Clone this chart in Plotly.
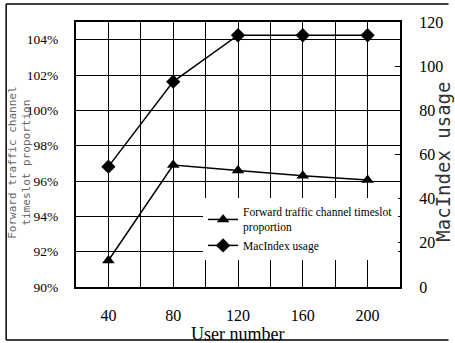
import plotly.graph_objects as go

users = [40, 80, 120, 160, 200]
timeslot_pct = [91.5, 96.9, 96.6, 96.3, 96.05]
macindex_usage = [54.5, 93, 114, 114, 114]

x_grid_vals = [20, 40, 60, 80, 100, 120, 140, 160, 180, 200, 220]
x_tick_text = ["", "40", "", "80", "", "120", "", "160", "", "200", ""]
y_left_vals = [90, 92, 94, 96, 98, 100, 102, 104]
y_left_text = ["90%", "92%", "94%", "96%", "98%", "100%", "102%", "104%"]
y_right_vals = [0, 20, 40, 60, 80, 100, 120]

FONT = "Liberation Serif"

# plot-area pixel geometry helpers
L, R, T, B = 76, 410, 22, 287
def px(xp):
    return (xp - L) / (R - L)
def py(yp):
    return (B - yp) / (B - T)

fig = go.Figure()
fig.add_trace(go.Scatter(
    x=users, y=timeslot_pct, mode="lines+markers",
    name="Forward traffic channel timeslot<br>proportion",
    line=dict(color="black", width=1.5),
    marker=dict(symbol="triangle-up", size=11, color="black"),
    yaxis="y"))
fig.add_trace(go.Scatter(
    x=users, y=macindex_usage, mode="lines+markers",
    name="MacIndex usage",
    line=dict(color="black", width=1.5),
    marker=dict(symbol="diamond", size=11, color="black"),
    yaxis="y2"))

fig.update_layout(
    width=455, height=343,
    margin=dict(l=L, r=455 - R, t=T, b=343 - B),
    paper_bgcolor="white", plot_bgcolor="white",
    font=dict(family=FONT, color="black", size=16),
    xaxis=dict(range=[20, 220], tickmode="array", tickvals=x_grid_vals, ticktext=x_tick_text,
               showgrid=True, gridcolor="black", gridwidth=1,
               showline=True, linecolor="black", linewidth=2, mirror=True,
               ticks="", ticklabelstandoff=13, zeroline=False),
    yaxis=dict(range=[90, 105], tickmode="array", tickvals=y_left_vals, ticktext=y_left_text,
               tickfont=dict(size=13.5),
               showgrid=True, gridcolor="black", gridwidth=1,
               showline=True, linecolor="black", linewidth=2, mirror=True,
               ticks="", ticklabelstandoff=13, zeroline=False),
    yaxis2=dict(range=[0, 120], tickmode="array", tickvals=y_right_vals, overlaying="y", side="right",
                showgrid=False, showline=True, linecolor="black", linewidth=2,
                ticks="inside", ticklen=5, tickcolor="black", ticklabelstandoff=14, zeroline=False),
    legend=dict(x=px(207), y=py(198), xanchor="left", yanchor="top",
                bgcolor="white", borderwidth=0,
                font=dict(family=FONT, size=11.5, color="black"),
                tracegroupgap=2, itemwidth=30),
    showlegend=True,
)

fig.add_annotation(xref="paper", yref="paper", x=px(242), y=py(334),
                   xanchor="center", yanchor="middle", showarrow=False,
                   text="User number", font=dict(family=FONT, size=18, color="black"))
fig.add_annotation(xref="paper", yref="paper", x=px(17), y=py(163),
                   xanchor="center", yanchor="middle", showarrow=False, textangle=-90,
                   text="Forward traffic channel<br>timeslot proportion",
                   font=dict(family="DejaVu Sans Mono", size=11, color="#666"))
fig.add_annotation(xref="paper", yref="paper", x=px(454), y=py(162),
                   xanchor="center", yanchor="middle", showarrow=False, textangle=-90,
                   text="MacIndex usage",
                   font=dict(family="DejaVu Sans Mono", size=19, color="#333"))

# outer frame
for (x0, y0, x1, y1) in [(4, 4, 460, 4), (4, 340, 460, 340), (4, 4, 4, 340)]:
    fig.add_shape(type="line", xref="paper", yref="paper",
                  x0=px(x0), x1=px(x1), y0=py(y0), y1=py(y1),
                  line=dict(color="black", width=1.5))

fig.write_html("out.html")
